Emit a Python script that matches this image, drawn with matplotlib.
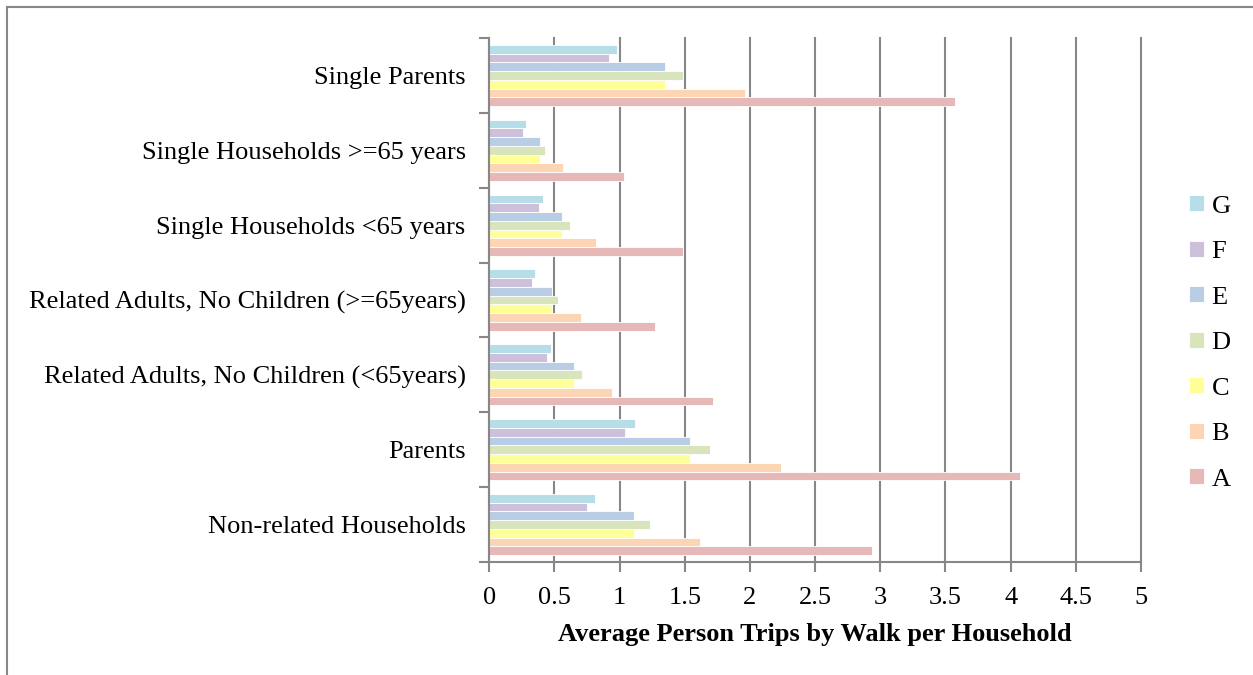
import numpy as np
import matplotlib
matplotlib.use("Agg")
import matplotlib.pyplot as plt
from matplotlib.lines import Line2D

plt.rcParams['font.family'] = ['Liberation Serif', 'DejaVu Serif']

categories = ["Non-related Households", "Parents",
              "Related Adults, No Children (<65years)",
              "Related Adults, No Children (>=65years)",
              "Single Households <65 years",
              "Single Households >=65 years",
              "Single Parents"]

series_names = ["A", "B", "C", "D", "E", "F", "G"]
vals_A = [2.94, 4.07, 1.72, 1.27, 1.49, 1.03, 3.57]
vals_B = [1.62, 2.24, 0.94, 0.70, 0.82, 0.565, 1.96]
vals_C = [1.11, 1.54, 0.65, 0.48, 0.56, 0.39, 1.35]
vals_D = [1.23, 1.69, 0.71, 0.53, 0.62, 0.43, 1.49]
vals_E = [1.11, 1.54, 0.65, 0.48, 0.56, 0.39, 1.35]
vals_F = [0.75, 1.04, 0.44, 0.325, 0.38, 0.26, 0.915]
vals_G = [0.81, 1.12, 0.47, 0.35, 0.41, 0.28, 0.98]

series_vals = [vals_A, vals_B, vals_C, vals_D, vals_E, vals_F, vals_G]
colors = ["#E6B9B8", "#FCD5B5", "#FFFF99", "#D8E4BC", "#B9CDE5", "#CCC0DA", "#B7DEE8"]

fig = plt.figure(figsize=(12.53, 6.75), dpi=100)
ax = fig.add_axes([0.3905, 0.1674, 0.5201, 0.7763])

n = len(series_names)
bar_h = 0.1167
y = np.arange(len(categories))
handles = []
for i, (name, vals, c) in enumerate(zip(series_names, series_vals, colors)):
    offs = (i - (n - 1) / 2.0) * bar_h
    b = ax.barh(y + offs, vals, height=bar_h, color=c, edgecolor='white',
                linewidth=0.6, label=name, zorder=2)
    handles.append(b)

ax.set_xlim(0, 5)
ax.set_ylim(-0.5, len(categories) - 0.5)
ax.set_xticks(np.arange(0, 5.01, 0.5))
ax.set_xticklabels(["0", "0.5", "1", "1.5", "2", "2.5", "3", "3.5", "4", "4.5", "5"], fontsize=19)
ax.set_yticks(y)
ax.set_yticklabels(categories, fontsize=19)
ax.set_yticks(np.arange(-0.5, len(categories), 1.0), minor=True)
ax.tick_params(axis='y', which='major', length=0, pad=17)
ax.tick_params(axis='y', which='minor', length=7, width=1.5, color='#878787')
ax.tick_params(axis='x', length=7, width=1.5, color='#878787', pad=11)

ax.xaxis.grid(True, color='#878787', linewidth=1.5)
for gl in ax.get_xgridlines():
    gl.set_clip_on(False)
ax.set_axisbelow(True)
for s in ['top', 'right']:
    ax.spines[s].set_visible(False)
for s in ['left', 'bottom']:
    ax.spines[s].set_color('#878787')
    ax.spines[s].set_linewidth(1.5)

ax.set_xlabel("Average Person Trips by Walk per Household", fontsize=19,
              fontweight='bold', labelpad=10)

leg = fig.legend(handles[::-1], series_names[::-1], loc='center left',
                 bbox_to_anchor=(0.93, 0.492), frameon=False, fontsize=19,
                 handlelength=0.55, handleheight=0.55, handletextpad=0.3,
                 labelspacing=0.88)

# outer chart border (left and top only visible)
fig.add_artist(Line2D([0.0052, 0.0052], [0.0, 0.9896], color='#878787', lw=1.5,
                      transform=fig.transFigure))
fig.add_artist(Line2D([0.0052, 1.0], [0.9896, 0.9896], color='#878787', lw=1.5,
                      transform=fig.transFigure))

fig.savefig("out.png", dpi=100)
